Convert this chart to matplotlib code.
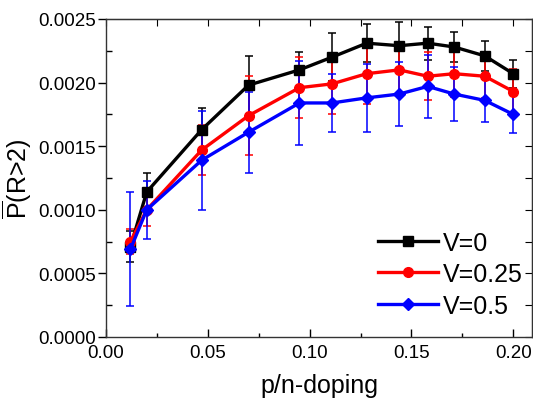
import numpy as np
import matplotlib
matplotlib.use("Agg")
import matplotlib.pyplot as plt
from matplotlib.ticker import MultipleLocator, FormatStrFormatter

plt.rcParams['font.family'] = ['Liberation Sans', 'DejaVu Sans']
plt.rcParams['mathtext.fontset'] = 'custom'
plt.rcParams['mathtext.rm'] = 'Liberation Sans'

# Data
doping = [0.012, 0.020, 0.047, 0.070, 0.095, 0.111, 0.128, 0.144, 0.158, 0.171, 0.186, 0.200]

p_v0 = [0.00071, 0.00114, 0.00163, 0.00198, 0.00210, 0.00220, 0.00231, 0.00229, 0.00231, 0.00228, 0.00221, 0.00207]
err_v0 = [0.00012, 0.00015, 0.00017, 0.00023, 0.00014, 0.00019, 0.00015, 0.00019, 0.00013, 0.00012, 0.00012, 0.00011]

p_v025 = [0.00075, 0.00100, 0.00147, 0.00174, 0.00196, 0.00199, 0.00207, 0.00210, 0.00205, 0.00207, 0.00205, 0.00193]
err_v025 = [0.00010, 0.00013, 0.00020, 0.00031, 0.00024, 0.00024, 0.00024, 0.00020, 0.00019, 0.00018, 0.00017, 0.00018]

p_v05 = [0.00069, 0.00100, 0.00139, 0.00161, 0.00184, 0.00184, 0.00188, 0.00191, 0.00197, 0.00191, 0.00186, 0.00175]
err_v05 = [0.00045, 0.00023, 0.00039, 0.00032, 0.00033, 0.00023, 0.00027, 0.00025, 0.00025, 0.00021, 0.00017, 0.00015]

labels = ['V=0', 'V=0.25', 'V=0.5']
colors = ['black', '#ff0000', '#0000ff']
markers = ['s', 'o', 'D']
msizes = [6.5, 7.0, 6.0]

fig = plt.figure(figsize=(5.33, 4.02), dpi=100)
ax = fig.add_axes([106 / 533, 64 / 402, 426 / 533, 318 / 402])

series = [(p_v0, err_v0), (p_v025, err_v025), (p_v05, err_v05)]
handles = []
for (y, e), lab, c, m, ms in zip(series, labels, colors, markers, msizes):
    cont = ax.errorbar(doping, y, yerr=e, color=c, marker=m, markersize=ms, lw=2.4,
                       elinewidth=1.1, capsize=3, capthick=1.1, label=lab)
    handles.append(cont[0])  # legend shows line + marker only

ax.set_xlim(0, 0.2092)
ax.set_ylim(0, 0.0025)

ax.xaxis.set_major_locator(MultipleLocator(0.05))
ax.xaxis.set_minor_locator(MultipleLocator(0.025))
ax.yaxis.set_major_locator(MultipleLocator(0.0005))
ax.yaxis.set_minor_locator(MultipleLocator(0.00025))
ax.xaxis.set_major_formatter(FormatStrFormatter('%.2f'))
ax.yaxis.set_major_formatter(FormatStrFormatter('%.4f'))

ax.tick_params(axis='x', which='major', direction='in', length=6, width=1, labelsize=13.5, pad=5)
ax.tick_params(axis='x', which='minor', direction='in', length=3, width=1)
ax.tick_params(axis='y', which='major', direction='out', length=6, width=1, labelsize=13.5, pad=1)
ax.tick_params(axis='y', which='minor', direction='in', length=4, width=1)
for s in ax.spines.values():
    s.set_linewidth(1.0)
    s.set_color('#333333')

# ticks on the top and right edges
top = ax.secondary_xaxis('top')
top.set_xticks(np.arange(0, 0.201, 0.025))
top.tick_params(direction='in', length=5, labeltop=False)
right = ax.secondary_yaxis('right')
right.set_yticks(np.arange(0, 0.00251, 0.00025))
right.tick_params(direction='in', length=5, labelright=False)

ax.set_xlabel('p/n-doping', fontsize=18, labelpad=9)
ax.set_ylabel(r'$\overline{\mathrm{P}}$(R>2)', fontsize=18, labelpad=3)

ax.legend(handles, labels, loc='center left', bbox_to_anchor=(0.6385, 0.198), frameon=False,
          fontsize=18, handlelength=2.4, handletextpad=0.2, labelspacing=0.3,
          borderpad=0, borderaxespad=0, numpoints=1)

plt.savefig('out.png', dpi=100)
